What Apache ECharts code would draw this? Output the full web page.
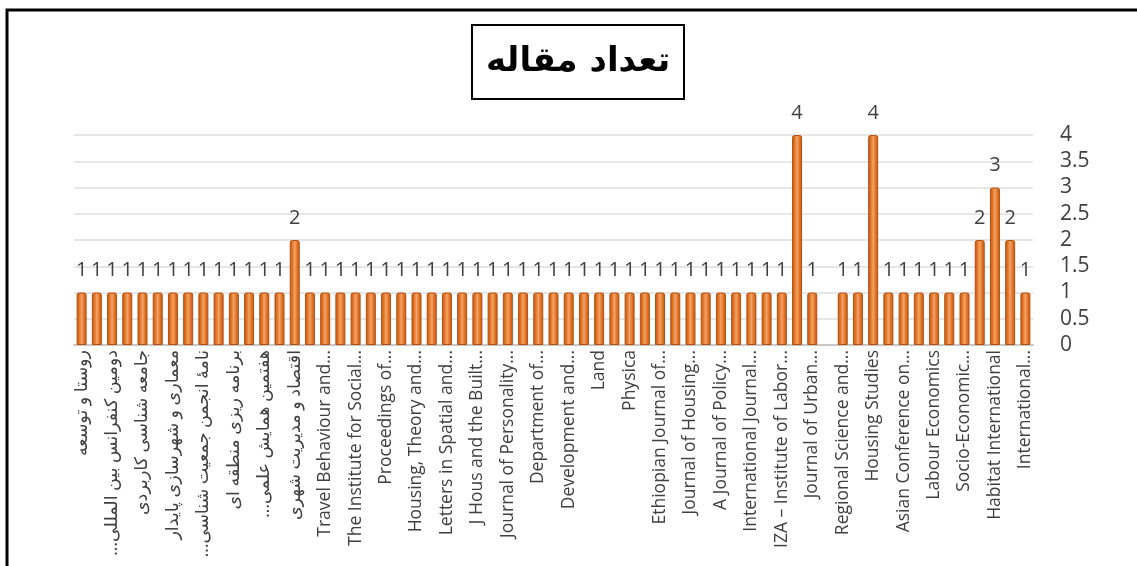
<!DOCTYPE html>
<html>
<head>
<meta charset="utf-8">
<script src="https://cdn.jsdelivr.net/npm/echarts@6/dist/echarts.min.js"></script>
<style>
  html, body { margin: 0; padding: 0; background: #fff; }
  #main { width: 1137px; height: 566px; }
</style>
</head>
<body>
<div id="main"></div>
<script>
// labels Excel actually shows (every second category); hidden ones are unknown
// \u200F keeps the trailing "..." on the left side of the Persian text
var shownLabels = [
  'روستا و توسعه', 'دومین کنفرانس بین المللی...\u200F', 'جامعه شناسی کاربردی',
  'معماری و شهرسازی پایدار', 'نامۀ انجمن جمعیت شناسی...\u200F', 'برنامه ریزی منطقه ای',
  'هفتمین همایش علمی...\u200F', 'اقتصاد و مدیریت شهری',
  'Travel Behaviour and...', 'The Institute for Social...', 'Proceedings of...',
  'Housing, Theory and...', 'Letters in Spatial and...', 'J Hous and the Built...',
  'Journal of Personality...', 'Department of...', 'Development and...', 'Land',
  'Physica', 'Ethiopian Journal of...', 'Journal of Housing...', 'A Journal of Policy...',
  'International Journal...', 'IZA – Institute of Labor...', 'Journal of Urban...',
  'Regional Science and...', 'Housing Studies', 'Asian Conference on...',
  'Labour Economics', 'Socio-Economic...', 'Habitat International', 'International...'
];

// تعداد مقاله per source (63 categories, one left blank)
var counts = [
  1,1,1,1,1,1,1,1,1,1,
  1,1,1,1,2,1,1,1,1,1,
  1,1,1,1,1,1,1,1,1,1,
  1,1,1,1,1,1,1,1,1,1,
  1,1,1,1,1,1,1,4,1,null,
  1,1,4,1,1,1,1,1,1,2,
  3,2,1
];

var yTicks = [0, 0.5, 1, 1.5, 2, 2.5, 3, 3.5, 4];

var categories = [];
for (var i = 0; i < counts.length; i++) {
  categories.push(i % 2 === 0 ? shownLabels[i / 2] : '');
}

var barColor = new echarts.graphic.LinearGradient(0, 0, 1, 0, [
  { offset: 0, color: '#C0560F' },
  { offset: 0.3, color: '#E57B2F' },
  { offset: 0.5, color: '#F3A468' },
  { offset: 0.7, color: '#E57B2F' },
  { offset: 1, color: '#C0560F' }
]);

var option = {
  backgroundColor: '#fff',
  animation: false,
  title: {
    text: 'تعداد مقاله',
    left: 472,
    top: 25,
    padding: [20, 14, 20, 14],
    borderColor: '#000',
    borderWidth: 2,
    textStyle: {
      fontFamily: 'DejaVu Sans',
      fontSize: 34,
      fontWeight: 'bold',
      color: '#000'
    }
  },
  graphic: [{
    type: 'rect',
    silent: true,
    shape: { x: 7, y: 10, width: 1300, height: 800 },
    style: { fill: 'none', stroke: '#000', lineWidth: 3 }
  }],
  grid: {
    left: 74,
    right: 104,
    top: 135,
    height: 210,
    outerBoundsMode: 'none'
  },
  xAxis: {
    type: 'category',
    data: categories,
    axisLine: { lineStyle: { color: '#C8C8C8', width: 2 } },
    axisTick: { show: false },
    axisLabel: {
      interval: 0,
      rotate: 90,
      margin: 5,
      color: '#404040',
      fontSize: 17.5,
      fontFamily: 'Open Sans, DejaVu Sans'
    }
  },
  yAxis: {
    type: 'value',
    position: 'right',
    min: yTicks[0],
    max: yTicks[yTicks.length - 1],
    interval: 0.5,
    axisLine: { show: false },
    axisTick: { show: false },
    splitLine: { lineStyle: { color: '#E6E6E6', width: 2 } },
    axisLabel: {
      margin: 27,
      color: '#404040',
      fontSize: 21,
      fontFamily: 'Open Sans'
    }
  },
  series: [{
    type: 'bar',
    data: counts,
    barWidth: 10,
    itemStyle: {
      color: barColor,
      borderColor: '#B5500E',
      borderWidth: 1,
      borderRadius: [2, 2, 0, 0]
    },
    label: {
      show: true,
      position: 'top',
      distance: 12,
      color: '#404040',
      fontSize: 20,
      fontFamily: 'Open Sans'
    }
  }]
};

var myChart = echarts.init(document.getElementById('main'));
myChart.setOption(option);
</script>
</body>
</html>
